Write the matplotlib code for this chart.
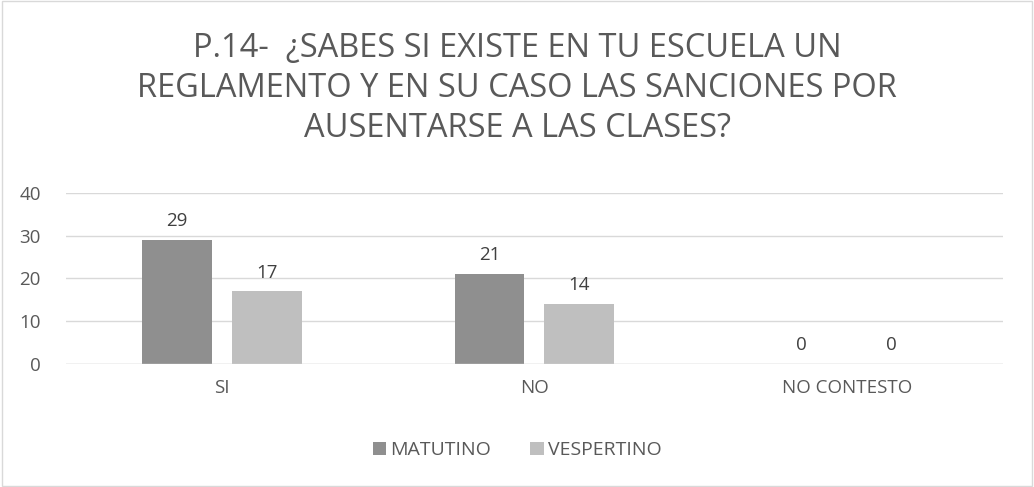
import numpy as np
import matplotlib
matplotlib.use('Agg')
import matplotlib.pyplot as plt
from matplotlib.patches import Rectangle

categories = ['SI', 'NO', 'NO CONTESTO']
matutino = [29, 21, 0]
vespertino = [17, 14, 0]
series_names = ['MATUTINO', 'VESPERTINO']
yticks = [0, 10, 20, 30, 40]

plt.rcParams['font.family'] = ['Open Sans', 'DejaVu Sans']
gray_text = '#595959'

fig = plt.figure(figsize=(10.34, 4.87), dpi=100)
ax = fig.add_axes([0.0638, 0.2526, 0.9062, 0.3511])

x = np.arange(len(categories))
w = 0.224
gap = 0.064
b1 = ax.bar(x - (w + gap) / 2, matutino, w, color='#8f8f8f', label=series_names[0], zorder=3)
b2 = ax.bar(x + (w + gap) / 2, vespertino, w, color='#bfbfbf', label=series_names[1], zorder=3)

for bars in (b1, b2):
    for r in bars:
        ax.annotate(str(int(r.get_height())), (r.get_x() + r.get_width() / 2, r.get_height()),
                    xytext=(0, 7), textcoords='offset points', ha='center', va='bottom',
                    fontsize=13.5, color='#404040')

ax.set_xlim(-0.5, 2.5)
ax.set_ylim(0, 40)
ax.set_yticks(yticks)
ax.set_xticks(x)
ax.set_xticklabels(categories)
ax.yaxis.grid(True, color='#d9d9d9', linewidth=1, zorder=0)
for s in ax.spines.values():
    s.set_visible(False)
ax.axhline(0, color='#d9d9d9', linewidth=1, zorder=4)
ax.tick_params(length=0, labelsize=13.5, colors=gray_text, pad=11)
ax.tick_params(axis='y', pad=18)

fig.text(0.5, 0.818, 'P.14-  ¿SABES SI EXISTE EN TU ESCUELA UN\nREGLAMENTO Y EN SU CASO LAS SANCIONES POR\nAUSENTARSE A LAS CLASES?',
         ha='center', va='center', fontsize=23.5, color=gray_text, linespacing=1.27)

fig.legend(loc='center', bbox_to_anchor=(0.5, 0.075), ncol=2, frameon=False,
           fontsize=14, labelcolor=gray_text, handlelength=0.7, handleheight=0.7,
           handletextpad=0.2, columnspacing=2.0)

fig.patches.append(Rectangle((0.002, 0.003), 0.996, 0.994, transform=fig.transFigure,
                             fill=False, edgecolor='#d9d9d9', linewidth=1))

fig.savefig('out.png', dpi=100)
